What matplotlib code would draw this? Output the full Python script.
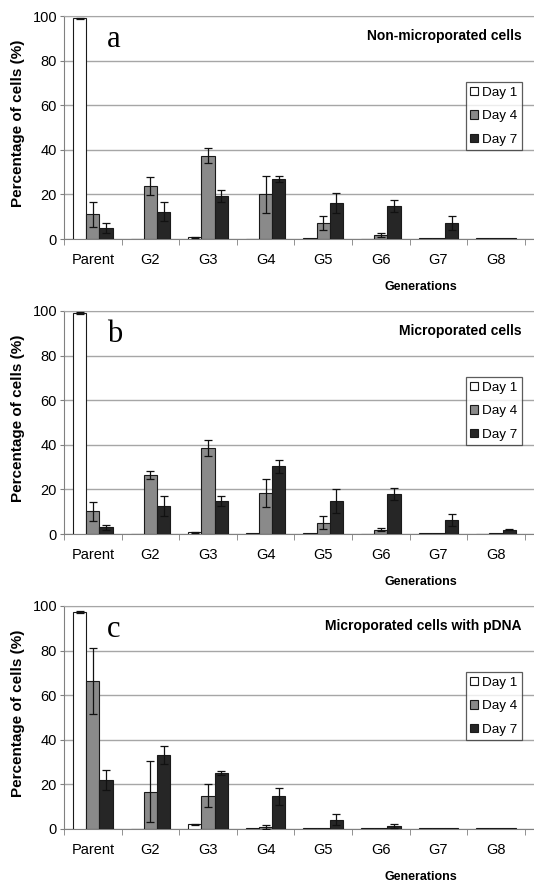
import numpy as np
import matplotlib
matplotlib.use('Agg')
import matplotlib.pyplot as plt
from matplotlib.patches import Patch

plt.rcParams['font.family'] = ['Liberation Sans', 'DejaVu Sans']

generations = ['Parent', 'G2', 'G3', 'G4', 'G5', 'G6', 'G7', 'G8']
days = ['Day 1', 'Day 4', 'Day 7']
nan = np.nan

# panel a - non-microporated
a_day1 = [99.0, 0, 0.8, 0, 0.3, 0, 0.3, 0.3]
a_day1_err = [0.3, nan, 0.3, nan, nan, nan, nan, nan]
a_day4 = [11.2, 23.8, 37.4, 20.0, 7.3, 1.9, 0.3, 0.3]
a_day4_err = [5.6, 4.0, 3.4, 8.3, 3.1, 0.8, nan, nan]
a_day7 = [4.9, 12.2, 19.3, 27.0, 16.2, 14.9, 7.3, 0.3]
a_day7_err = [2.4, 4.2, 2.6, 1.4, 4.5, 2.7, 3.1, nan]

# panel b - microporated
b_day1 = [99.2, 0, 0.8, 0.3, 0.3, 0, 0.3, 0]
b_day1_err = [0.4, nan, 0.3, nan, nan, nan, nan, nan]
b_day4 = [10.2, 26.4, 38.6, 18.3, 5.1, 2.0, 0.3, 0.3]
b_day4_err = [4.2, 1.8, 3.6, 6.2, 2.9, 0.5, nan, nan]
b_day7 = [3.0, 12.5, 14.7, 30.3, 14.7, 17.9, 6.2, 2.0]
b_day7_err = [1.0, 4.5, 2.3, 2.9, 5.3, 2.7, 2.7, 0.4]

# panel c - microporated with pDNA
c_day1 = [97.3, 0, 2.1, 0.3, 0.3, 0.3, 0.3, 0.3]
c_day1_err = [0.4, nan, 0.2, nan, nan, nan, nan, nan]
c_day4 = [66.4, 16.7, 14.9, 0.8, 0.3, 0.3, 0.3, 0.3]
c_day4_err = [14.9, 13.6, 5.2, 0.8, nan, nan, nan, nan]
c_day7 = [21.9, 33.3, 25.2, 14.6, 4.2, 1.4, 0.3, 0.3]
c_day7_err = [4.5, 4.0, 0.8, 3.9, 2.6, 1.0, nan, nan]

panels = [
    ('a', 'Non-microporated cells', [a_day1, a_day4, a_day7], [a_day1_err, a_day4_err, a_day7_err]),
    ('b', 'Microporated cells', [b_day1, b_day4, b_day7], [b_day1_err, b_day4_err, b_day7_err]),
    ('c', 'Microporated cells with pDNA', [c_day1, c_day4, c_day7], [c_day1_err, c_day4_err, c_day7_err]),
]

colors = ['#ffffff', '#8a8a8a', '#262626']
bottoms = [0.7299, 0.3966, 0.0633]
grid_col = '#a6a6a6'
axis_col = '#808080'

fig = plt.figure(figsize=(5.34, 8.85), dpi=100)
x = np.arange(len(generations))
w = 0.23

for (letter, title, series, errs), bot in zip(panels, bottoms):
    ax = fig.add_axes([0.1199, bot, 0.8801, 0.252])
    for i in range(3):
        ax.bar(x + (i - 1) * w, series[i], w, color=colors[i], edgecolor='#1a1a1a',
               linewidth=0.8, yerr=errs[i], capsize=3,
               error_kw=dict(ecolor='#111111', elinewidth=0.9, capthick=0.9), zorder=3)

    ax.set_xlim(-0.5, 7.66)
    ax.set_ylim(0, 100)
    ax.set_yticks(range(0, 101, 20))
    ax.yaxis.grid(True, color=grid_col, linewidth=1.0, zorder=0)
    ax.set_axisbelow(True)

    ax.set_xticks(x)
    ax.set_xticklabels(generations, fontsize=10.5)
    ax.set_xticks(np.arange(-0.5, 8, 1), minor=True)
    ax.tick_params(axis='x', which='major', length=0, pad=10)
    ax.tick_params(axis='x', which='minor', length=4, color=axis_col)
    ax.tick_params(axis='y', length=3, pad=2, labelsize=10.5, color=axis_col)

    for s in ['left', 'bottom']:
        ax.spines[s].set_color(axis_col)
    ax.spines['top'].set_color(grid_col)
    ax.spines['right'].set_visible(False)

    ax.set_ylabel('Percentage of cells (%)', fontsize=11, fontweight='bold')
    ax.yaxis.set_label_coords(-0.083, 0.52)
    ax.text(0.76, -0.215, 'Generations', transform=ax.transAxes, fontsize=9,
            fontweight='bold', ha='center', va='center')

    ax.text(0.25, 86, letter, fontsize=22, family=['Liberation Serif', 'DejaVu Serif'],
            ha='left', va='baseline')
    ax.text(7.45, 91, title, fontsize=10, fontweight='bold', ha='right', va='center')

    handles = [Patch(facecolor=colors[i], edgecolor='#1a1a1a', linewidth=0.8) for i in range(3)]
    leg = ax.legend(handles, days, loc='upper right', bbox_to_anchor=(0.974, 0.704),
                    fontsize=9.7, frameon=True, fancybox=False, handlelength=0.6,
                    handleheight=0.6, handletextpad=0.25, labelspacing=0.85,
                    borderpad=0.35, borderaxespad=0)
    leg.get_frame().set_edgecolor('#333333')
    leg.get_frame().set_linewidth(0.9)

fig.savefig('out.png', dpi=100)
